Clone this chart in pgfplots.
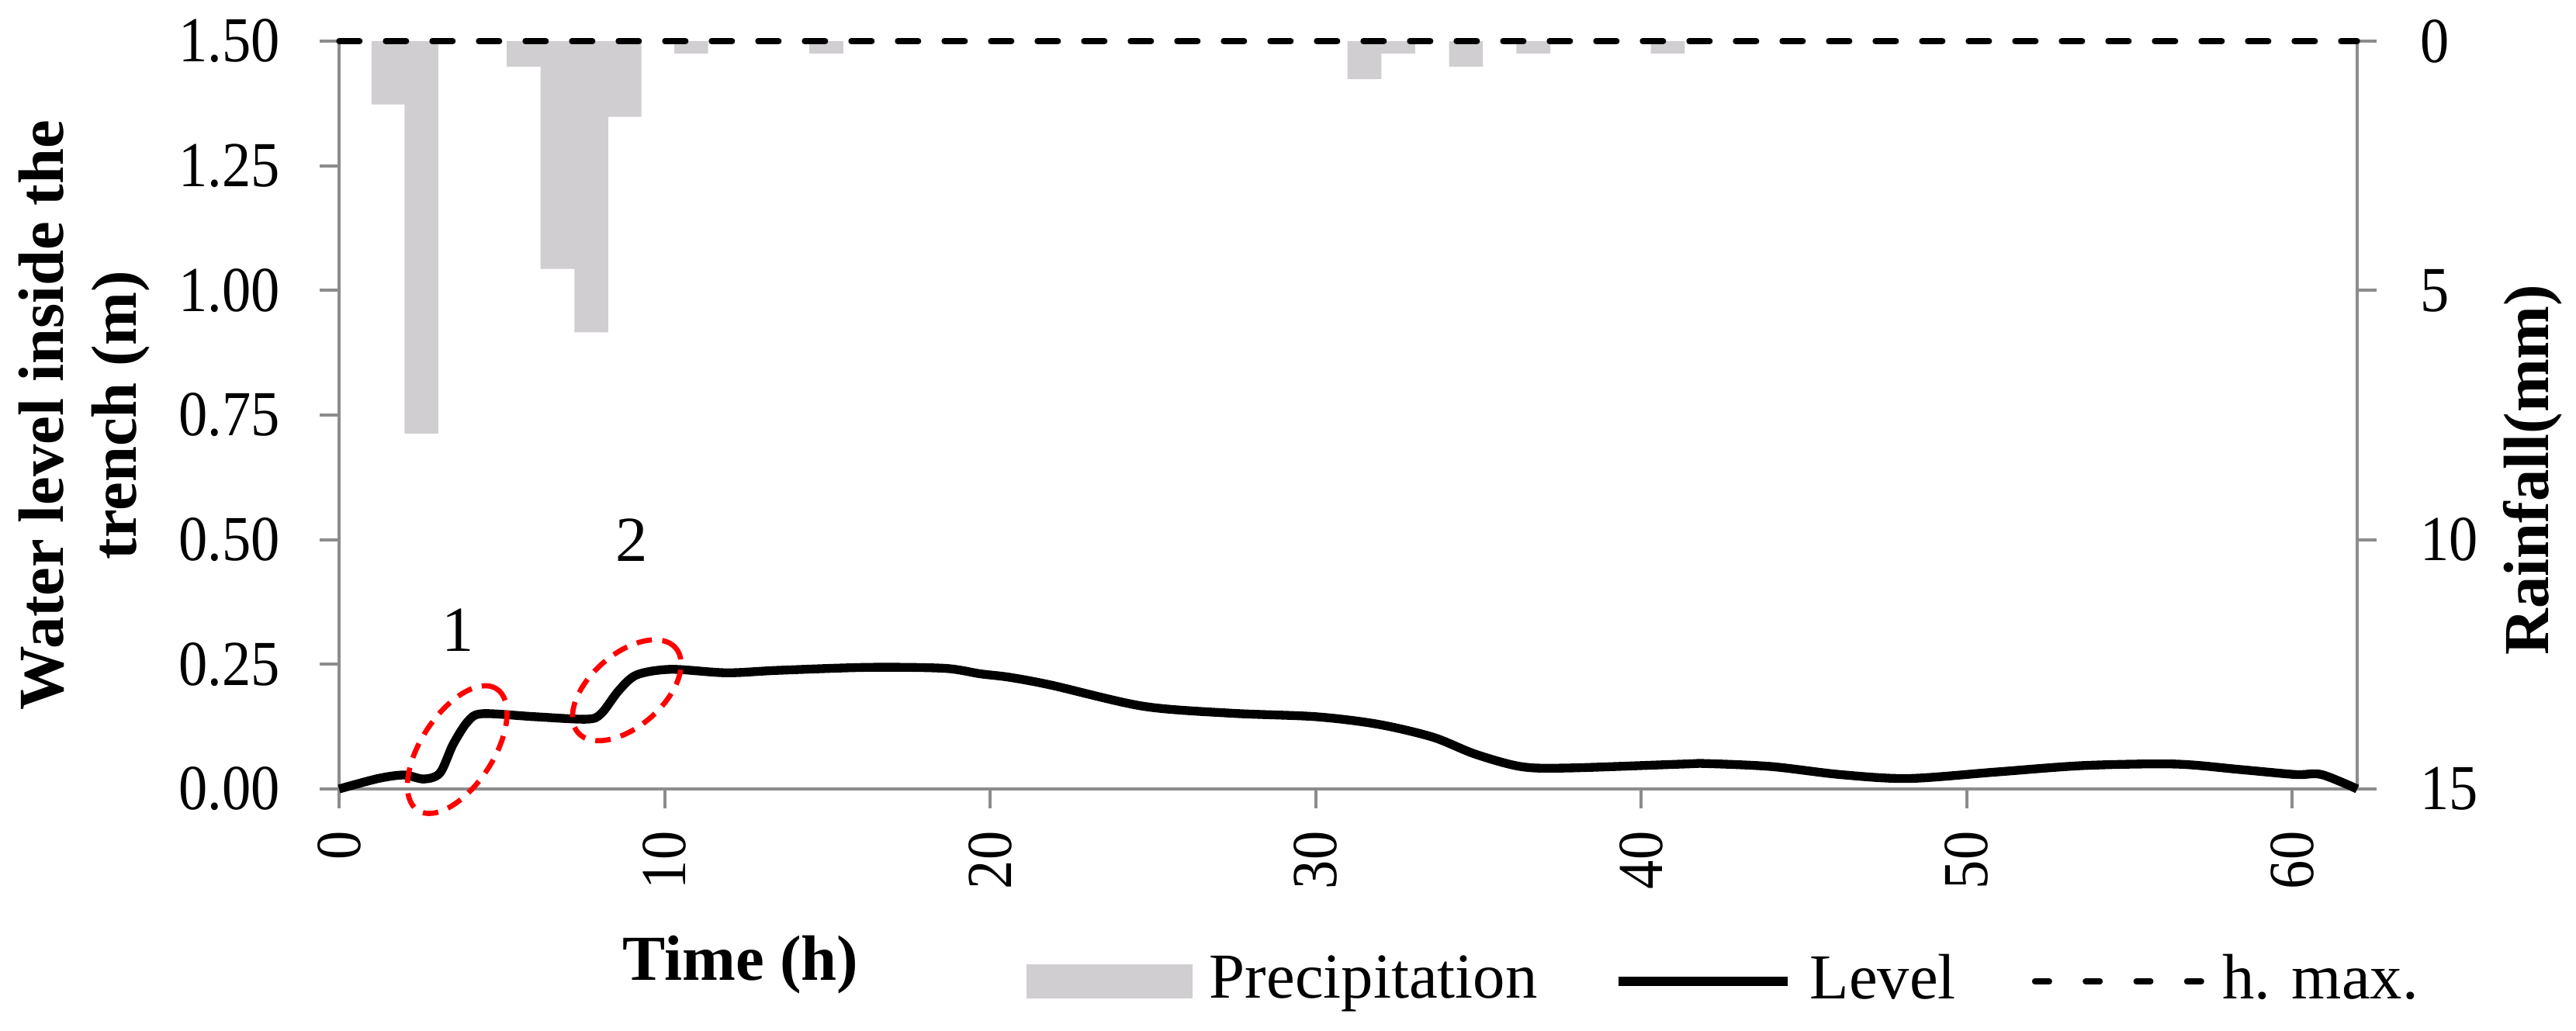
\documentclass[border=0pt]{standalone}
\usepackage{fontspec}
\setmainfont{Liberation Serif}
\newfontfamily\tickfont[FakeStretch=0.9]{Liberation Serif}
\usepackage{pgfplots}
\pgfplotsset{compat=1.18}
\usetikzlibrary{shapes.geometric}

\definecolor{barcol}{RGB}{208,206,208}
\definecolor{axcol}{RGB}{140,140,140}

\begin{document}
\fontsize{12.4}{14}\selectfont
\begin{tikzpicture}
\pgfplotsset{
  every axis/.append style={
    scale only axis, width=390.15pt, height=144.6pt,
    at={(65.55pt,46.65pt)}, anchor=south west,
    xmin=0, xmax=62,
    tick align=inside, major tick length=-3.8pt,
    tick style={axcol, line width=0.6pt},
    axis line style={axcol, line width=0.6pt, -},
    tick label style={font=\tickfont\fontsize{12.4}{14}\selectfont, inner sep=0pt},
    label style={font=\fontsize{12.4}{14}\selectfont\bfseries, inner sep=0pt},
    /pgf/number format/assume math mode=true,
  }
}
% ---------- rainfall (right axis) ----------
\begin{axis}[
  axis y line*=right, axis x line=none,
  ymin=0, ymax=15, y dir=reverse,
  ytick={0,5,10,15},
  yticklabel style={anchor=west},
  yticklabel shift=12pt,
  ylabel={Rainfall(mm)},
  ylabel style={at={(rel axis cs:1.102,0.427)}, anchor=south},
]
\addplot[ybar, bar width=1.04, bar shift=0pt, fill=barcol, draw=none] coordinates {
(1.52,1.27) (2.53,7.87) (5.67,0.51) (6.71,4.57) (7.75,5.84) (8.77,1.52)
(10.82,0.25) (14.97,0.25) (31.5,0.76) (32.54,0.25) (34.62,0.51) (36.69,0.25) (40.82,0.25)
};
\end{axis}
% ---------- water level (left axis) ----------
\begin{axis}[
  clip=false,
  axis y line*=left, axis x line*=bottom,
  ymin=0, ymax=1.5,
  ytick={0,0.25,0.5,0.75,1,1.25,1.5},
  yticklabel style={/pgf/number format/fixed, /pgf/number format/fixed zerofill, /pgf/number format/precision=2, anchor=east},
  yticklabel shift=11.2pt,
  xtick={0,10,20,30,40,50,60},
  xticklabel style={rotate=90, anchor=east},
  xticklabel shift=8pt,
  xlabel={Time (h)},
  xlabel style={at={(rel axis cs:0.199,-0.2355)}, anchor=center},
  ylabel={Water level inside the\\trench (m)},
  ylabel style={align=center, at={(rel axis cs:-0.0934,0.5)}, anchor=south},
  legend columns=3,
  legend style={at={(0.3406,-0.2573)}, anchor=west, draw=none, fill=none,
    inner sep=0pt, outer sep=0pt, font=\fontsize{12.4}{14}\selectfont,
    row sep=0pt,
    nodes={inner sep=0pt, outer sep=0pt},
    /tikz/every odd column/.append style={column sep=3.3pt},
    /tikz/every even column/.append style={column sep=14.7pt}},
  legend cell align=left,
]
\addlegendimage{legend image code/.code={\fill[barcol] (0pt,-3.15pt) rectangle (31.7pt,3.15pt);}}
\addlegendentry{Precipitation}
\addplot[black, line width=1.7pt, smooth, tension=0.5,
  legend image code/.code={\draw[black, line width=1.9pt] (0pt,0pt) -- (32.8pt,0pt);}] coordinates {
(0,0.000) (1.2,0.021) (2.0,0.028) (2.6,0.020) (3.1,0.032) (3.5,0.089) (3.95,0.135)
(4.4,0.151) (6.0,0.145) (7.6,0.140) (8.05,0.151) (8.6,0.198) (9.15,0.229) (10.2,0.240)
(11.9,0.233) (13.5,0.238) (16.3,0.244) (18.6,0.242) (19.7,0.231) (20.6,0.224) (21.9,0.208)
(24.7,0.166) (27.4,0.152) (30.0,0.145) (31.9,0.130) (33.6,0.104) (34.9,0.070) (36.3,0.045)
(37.7,0.042) (41.3,0.050) (42.0,0.051) (44.0,0.045) (46.1,0.029) (48.2,0.021) (50.9,0.034)
(53.6,0.047) (56.4,0.050) (58.4,0.039) (60.1,0.029) (60.9,0.029) (62.0,0.000)
};
\addlegendentry{Level}
\addplot[black, line width=1.1pt, line cap=round, dash pattern=on 4pt off 5pt,
  legend image code/.code={\draw[black, line width=1.1pt, line cap=round, dash pattern=on 2.8pt off 7pt] (0.6pt,0pt) -- (33pt,0pt);}] coordinates {
(0,1.5) (62,1.5)
};
\addlegendentry{h. max.}
\node[draw=red, ellipse, rotate=57, minimum width=28pt, minimum height=14pt, inner sep=0pt,
  line width=1pt, dash pattern=on 3pt off 2pt] at (axis cs:3.63,0.079) {};
\node[draw=red, ellipse, rotate=41, minimum width=25pt, minimum height=14pt, inner sep=0pt,
  line width=1pt, dash pattern=on 3pt off 2pt] at (axis cs:8.84,0.198) {};
\node[font=\fontsize{12.4}{14}\selectfont] at (axis cs:3.65,0.319) {1};
\node[font=\fontsize{12.4}{14}\selectfont] at (axis cs:9.0,0.50) {2};
\end{axis}
\pgfresetboundingbox
\path[use as bounding box] (0pt,0pt) rectangle (498pt,199.2pt);
\end{tikzpicture}
\end{document}
